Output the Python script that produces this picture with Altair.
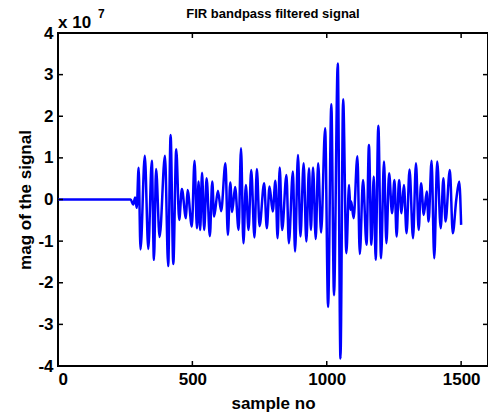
import altair as alt
import pandas as pd

# sample index of each turning point
samples = [0, 270, 280, 287, 293,
           300, 307, 323, 336, 349, 357, 365, 378, 398, 410, 419, 429, 440, 451,
           461, 476, 482, 498, 508, 517, 523, 529, 536, 544, 553, 565, 574, 581,
           595, 607, 623, 632, 641, 648, 659, 672, 681, 690, 699, 709, 719, 731,
           740, 750, 767, 777, 787, 799, 809, 817, 825, 834, 850, 859, 874, 882,
           893, 902, 914, 924, 934, 941, 949, 959, 968, 979, 994, 1005, 1017, 1027,
           1041, 1051, 1061, 1073, 1083, 1088, 1091, 1100, 1114, 1123, 1135, 1148,
           1157, 1166, 1175, 1182, 1192, 1202, 1213, 1222, 1232, 1243, 1252, 1260,
           1269, 1278, 1287, 1297, 1308, 1321, 1332, 1342, 1351, 1361, 1372, 1379,
           1390, 1400, 1411, 1424, 1434, 1442, 1458, 1469, 1482, 1493, 1500]
# magnitude in units of 1e7
values = [0, 0, -0.12, 0.05, -0.2,
          0.76, -1.2, 1.05, -1.19, 0.93, -1.45, 0.73, -0.9, 1.05, -1.6, 1.55, -1.55, 1.21, -0.49,
          0.25, -0.45, 0.23, -0.65, 0.93, -0.69, 0.43, -0.73, 0.64, -0.73, 0.51, -0.88, 0.43, -0.41,
          0.21, -0.28, 0.87, -0.85, 0.41, -0.3, 0.3, -0.73, 1.23, -1.05, 0.35, -0.73, 0.71, -0.91,
          0.73, -0.64, 0.39, -0.69, 0.31, -0.29, 0.45, -0.93, 0.77, -0.73, 0.59, -1.05, 0.67, -1.25,
          1.07, -0.89, 0.87, -1.01, 0.75, -0.73, 0.77, -0.95, 0.87, -0.79, 1.71, -2.58, 2.29, -2.3,
          3.27, -3.82, 2.41, -1.29, 0.35, -0.25, -0.05, -0.45, 1.04, -1.31, 0.47, -1.09,
          1.31, -1.09, 0.55, -1.45, 1.77, -1.41, 0.91, -1.05, 0.63, -0.33, 0.47, -0.89,
          0.47, -0.33, 0.35, -0.81, 0.72, -0.93, 0.87, -0.73, 0.39, -0.37, 0.19, -0.53,
          0.93, -1.41, 0.91, -0.69, 0.51, -0.53, 0.71, -0.81, 0.0, 0.43, -0.61]

x_ticks = [0, 500, 1000, 1500]
y_ticks = [-4, -3, -2, -1, 0, 1, 2, 3, 4]

W, H = 430, 333
TICK = 5

df = pd.DataFrame({"n": samples, "v": values})
dfx = pd.DataFrame({"t": x_ticks})
dfy = pd.DataFrame({"t": y_ticks})

FONT = "Liberation Sans"
xs = alt.Scale(domain=[0, 1600], nice=False, zero=False)
ys = alt.Scale(domain=[-4, 4], nice=False, zero=False)

label_axis_x = alt.Axis(values=x_ticks, orient="bottom", ticks=False, domain=False, grid=False,
                        labelExpr="'' + datum.value",
                        labelFont=FONT, labelFontSize=17, labelFontWeight="bold", labelColor="black",
                        labelPadding=5, title="sample no", titleFont=FONT, titleFontSize=17,
                        titleFontWeight="bold", titleColor="black", titlePadding=8)
label_axis_y = alt.Axis(values=y_ticks, orient="left", ticks=False, domain=False, grid=False,
                        labelExpr="'' + datum.value",
                        labelFont=FONT, labelFontSize=17, labelFontWeight="bold", labelColor="black",
                        labelPadding=5, title="mag of the signal", titleFont=FONT, titleFontSize=17,
                        titleFontWeight="bold", titleColor="black", titlePadding=3)

line = alt.Chart(df).mark_line(color="#0000FF", strokeWidth=2.5, interpolate="monotone").encode(
    x=alt.X("n:Q", scale=xs, axis=label_axis_x),
    y=alt.Y("v:Q", scale=ys, axis=label_axis_y),
)

tick_style = dict(color="black", strokeWidth=1.5)
xt_bottom = alt.Chart(dfx).mark_rule(**tick_style).encode(
    x=alt.X("t:Q", scale=xs), y=alt.value(H - TICK), y2=alt.value(H))
xt_top = alt.Chart(dfx).mark_rule(**tick_style).encode(
    x=alt.X("t:Q", scale=xs), y=alt.value(0), y2=alt.value(TICK))
yt_left = alt.Chart(dfy).mark_rule(**tick_style).encode(
    y=alt.Y("t:Q", scale=ys), x=alt.value(0), x2=alt.value(TICK))
yt_right = alt.Chart(dfy).mark_rule(**tick_style).encode(
    y=alt.Y("t:Q", scale=ys), x=alt.value(W - TICK), x2=alt.value(W))

title_text = alt.Chart(pd.DataFrame({"t": ["FIR bandpass filtered signal"]})).mark_text(
    font=FONT, fontSize=13, fontWeight="bold", align="center", baseline="alphabetic", color="black"
).encode(text="t:N", x=alt.value(W / 2), y=alt.value(-15))
exp_base = alt.Chart(pd.DataFrame({"t": ["x 10"]})).mark_text(
    font=FONT, fontSize=17, fontWeight="bold", align="left", baseline="alphabetic", color="black"
).encode(text="t:N", x=alt.value(0), y=alt.value(-5))
exp_sup = alt.Chart(pd.DataFrame({"t": ["7"]})).mark_text(
    font=FONT, fontSize=12, fontWeight="bold", align="left", baseline="alphabetic", color="black"
).encode(text="t:N", x=alt.value(40), y=alt.value(-15))

chart = alt.layer(line, xt_bottom, xt_top, yt_left, yt_right, title_text, exp_base, exp_sup).properties(
    width=W, height=H,
    padding={"left": 50, "top": 25, "right": 0, "bottom": 46},
    autosize=alt.AutoSizeParams(type="none"),
).configure(background="white").configure_view(stroke="black", strokeWidth=2)

chart.save("out.html", embed_options={"renderer": "svg", "actions": False})
